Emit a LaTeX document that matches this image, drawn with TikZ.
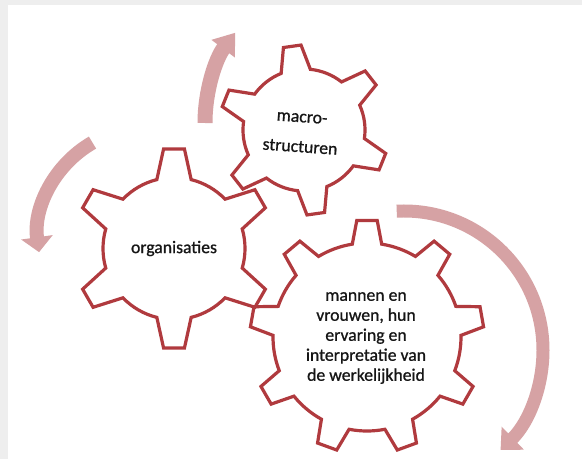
\documentclass[tikz,border=0pt]{standalone}
\usepackage{fontspec}
\setmainfont{Carlito}
\newfontfamily\gearfont{Carlito}[FakeBold=0.9]
\usetikzlibrary{arrows.meta}
\definecolor{gearred}{RGB}{176,58,62}
\definecolor{arrowpink}{RGB}{214,162,164}
\definecolor{bggray}{RGB}{238,238,238}
\definecolor{txt}{RGB}{22,22,22}
\tikzset{
  gearline/.style={draw=gearred, line width=3.2pt, line join=miter},
  gtext/.style={text=txt, font=\gearfont\fontsize{17.7}{20}\selectfont, align=center, inner sep=1pt},
  rotarrow/.style={draw=arrowpink, line cap=butt},
}
% #1 cx, #2 cy, #3 teeth, #4 first tooth angle, #5 outer r, #6 root r, #7 tip half-angle, #8 base half-angle
\newcommand{\drawgear}[8]{%
  \begin{scope}[shift={(#1,#2)}]
    \pgfmathsetmacro{\gstep}{360/#3}
    \pgfmathtruncatemacro{\glast}{#3-1}
    \draw[gearline] ({#4-#8}:#6 pt)
      \foreach \k in {0,...,\glast} {
        -- ({#4+\k*\gstep-#7}:#5 pt) -- ({#4+\k*\gstep+#7}:#5 pt)
        -- ({#4+\k*\gstep+#8}:#6 pt)
        arc[start angle={#4+\k*\gstep+#8}, end angle={#4+(\k+1)*\gstep-#8}, radius=#6 pt]
      } -- cycle;
  \end{scope}}
\begin{document}
\begin{tikzpicture}[x=1pt,y=1pt]
  \useasboundingbox (0,0) rectangle (582,459);
  \fill[bggray] (0,0) rectangle (582,459);
  \fill[white] (8,0) rectangle (582,454);

  % rotation arrows
  \coordinate (ca) at (355,336);
  \coordinate (cb) at (147,222);
  \coordinate (cc) at (404,109);
  \draw[rotarrow, line width=15pt, -{Triangle[width=28pt,length=20pt]}]
    ([shift={(180:150pt)}]ca) arc[start angle=180, end angle=143, radius=150pt];
  \draw[rotarrow, line width=14pt, -{Triangle[width=31pt,length=15pt]}]
    ([shift={(120:109pt)}]cb) arc[start angle=120, end angle=188, radius=109pt];
  \draw[rotarrow, line width=13pt, -{Triangle[width=31pt,length=17pt]}]
    ([shift={(93:139pt)}]cc) arc[start angle=93, end angle=-46, radius=139pt];

  % gears
  \drawgear{174}{210.5}{6}{90}{100}{71}{6}{14}
  \drawgear{304}{329}{6}{98}{85}{61}{6}{14}
  \drawgear{367}{122}{9}{90}{117}{94}{5}{9}

  % labels
  \node[gtext] (org) at (174,210.5) {organisaties};
  \node[gtext, rotate=-4] (macro) at (301,326) {macro-\\[10pt]structuren};
  \node[gtext] (mannen) at (366,121) {mannen en\\vrouwen, hun\\ervaring en\\interpretatie van\\de werkelijkheid};
\end{tikzpicture}
\end{document}
